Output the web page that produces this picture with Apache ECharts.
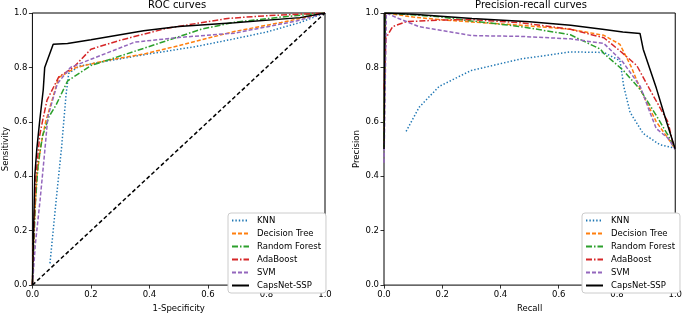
<!DOCTYPE html>
<html>
<head>
<meta charset="utf-8">
<script src="https://cdn.jsdelivr.net/npm/echarts@6/dist/echarts.min.js"></script>
<style>
html, body { margin: 0; padding: 0; background: #fff; }
#chart { width: 685px; height: 318px; }
</style>
</head>
<body>
<div id="chart"></div>
<script>
var names = ['KNN', 'Decision Tree', 'Random Forest', 'AdaBoost', 'SVM', 'CapsNet-SSP'];
var axisTicks = [0, 0.2, 0.4, 0.6, 0.8, 1.0];

// ROC curves: [1-specificity, sensitivity]
var rocKNN = [[0.06, 0.08], [0.08, 0.3], [0.1, 0.51], [0.107, 0.6], [0.115, 0.7], [0.124, 0.778], [0.16, 0.805], [0.237, 0.82], [0.4, 0.85], [0.55, 0.875], [0.69, 0.905], [0.8, 0.93], [0.915, 0.965], [1, 1]];
var rocDT = [[0, 0], [0.005, 0.2], [0.015, 0.4], [0.03, 0.52], [0.045, 0.6], [0.07, 0.69], [0.09, 0.763], [0.15, 0.8], [0.25, 0.825], [0.38, 0.849], [0.5, 0.88], [0.69, 0.932], [0.85, 0.965], [1, 1]];
var rocRF = [[0, 0], [0.01, 0.3], [0.02, 0.45], [0.035, 0.55], [0.057, 0.62], [0.08, 0.66], [0.12, 0.75], [0.2, 0.807], [0.38, 0.87], [0.576, 0.94], [0.69, 0.966], [0.85, 0.985], [1, 1]];
var rocAda = [[0, 0], [0.005, 0.2], [0.012, 0.4], [0.025, 0.55], [0.034, 0.6], [0.05, 0.68], [0.09, 0.765], [0.14, 0.8], [0.2, 0.867], [0.3, 0.9], [0.46, 0.944], [0.667, 0.98], [0.8, 0.99], [1, 1]];
var rocSVM = [[0, 0], [0.01, 0.15], [0.026, 0.31], [0.034, 0.4], [0.042, 0.49], [0.053, 0.62], [0.085, 0.74], [0.13, 0.8], [0.2, 0.83], [0.35, 0.893], [0.5, 0.91], [0.69, 0.926], [0.9, 0.97], [1, 1]];
var rocCaps = [[0, 0], [0.008, 0.4], [0.015, 0.5], [0.025, 0.605], [0.037, 0.718], [0.042, 0.8], [0.071, 0.885], [0.12, 0.888], [0.2, 0.902], [0.38, 0.935], [0.5, 0.95], [0.69, 0.964], [0.915, 0.983], [1, 1]];
var rocChance = [[0, 0], [1, 1]];

// Precision-recall curves: [recall, precision]
var prKNN = [[0.076, 0.565], [0.121, 0.654], [0.189, 0.73], [0.3, 0.789], [0.47, 0.831], [0.64, 0.857], [0.755, 0.855], [0.81, 0.825], [0.817, 0.778], [0.823, 0.731], [0.845, 0.635], [0.89, 0.557], [0.947, 0.516], [0.992, 0.505], [1, 0.5]];
var prDT = [[0, 0.5], [0.005, 1.0], [0.1, 0.985], [0.2, 0.975], [0.3, 0.967], [0.47, 0.955], [0.64, 0.94], [0.755, 0.918], [0.81, 0.885], [0.85, 0.8], [0.88, 0.72], [0.935, 0.6], [0.975, 0.54], [1, 0.5]];
var prRF = [[0, 0.5], [0.005, 1.0], [0.076, 0.995], [0.19, 0.986], [0.3, 0.971], [0.47, 0.95], [0.64, 0.92], [0.743, 0.867], [0.755, 0.851], [0.822, 0.789], [0.88, 0.718], [0.935, 0.623], [0.975, 0.551], [1, 0.5]];
var prAda = [[0, 0.72], [0.007, 0.909], [0.03, 0.95], [0.076, 0.968], [0.19, 0.974], [0.3, 0.976], [0.47, 0.964], [0.64, 0.94], [0.755, 0.909], [0.81, 0.861], [0.868, 0.807], [0.913, 0.718], [0.975, 0.6], [0.99, 0.53], [1, 0.5]];
var prSVM = [[0, 0.45], [0.008, 1.0], [0.05, 0.98], [0.12, 0.95], [0.3, 0.917], [0.47, 0.914], [0.64, 0.905], [0.755, 0.888], [0.82, 0.82], [0.88, 0.73], [0.913, 0.635], [0.935, 0.575], [0.975, 0.54], [1, 0.5]];
var prCaps = [[0, 0.5], [0.003, 1.0], [0.1, 0.995], [0.302, 0.98], [0.5, 0.968], [0.641, 0.955], [0.75, 0.94], [0.82, 0.93], [0.879, 0.925], [0.89, 0.867], [0.935, 0.724], [0.97, 0.6], [1, 0.5]];

var colors = ['#1f77b4', '#ff7f0e', '#2ca02c', '#d62728', '#9467bd', '#000000'];
var dashes = [[1.4, 2], [4, 2], [6, 2, 1.5, 2], [6, 2, 1.5, 2], [4, 2], 'solid'];
var font = 'DejaVu Sans';

function makeAxis(gridIndex, name, isY) {
    return {
        type: 'value',
        gridIndex: gridIndex,
        min: axisTicks[0],
        max: axisTicks[axisTicks.length - 1],
        interval: axisTicks[1] - axisTicks[0],
        name: name,
        nameLocation: 'middle',
        nameGap: isY ? 20 : 13,
        nameTextStyle: { fontFamily: font, fontSize: 8.5, color: '#000' },
        axisLine: { show: false },
        axisTick: { show: true, inside: false, length: 3.5, lineStyle: { color: '#000', width: 0.8 } },
        axisLabel: {
            fontFamily: font, fontSize: 8.5, color: '#000', margin: 5,
            formatter: function (v) { return v.toFixed(1); }
        },
        splitLine: { show: false }
    };
}

function makeSeries(gridIndex, datasets) {
    return datasets.map(function (d, i) {
        return {
            name: names[i],
            type: 'line',
            xAxisIndex: gridIndex,
            yAxisIndex: gridIndex,
            data: d,
            symbol: 'none',
            animation: false,
            z: i === 5 ? 3 : 2,
            lineStyle: { color: colors[i], width: 1.5, type: dashes[i] },
            itemStyle: { color: colors[i] }
        };
    });
}

function makeLegend(left) {
    return {
        orient: 'vertical',
        left: left,
        top: 213,
        data: names,
        itemWidth: 17,
        itemHeight: 8,
        itemGap: 4,
        padding: [3, 5, 3, 3],
        backgroundColor: '#fff',
        borderColor: '#ccc',
        borderWidth: 1,
        borderRadius: 3,
        selectedMode: false,
        itemStyle: { opacity: 0 },
        textStyle: { fontFamily: font, fontSize: 8.5, color: '#000', padding: [0, 0, 0, 3] }
    };
}

var series = makeSeries(0, [rocKNN, rocDT, rocRF, rocAda, rocSVM, rocCaps])
    .concat(makeSeries(1, [prKNN, prDT, prRF, prAda, prSVM, prCaps]));
series.push({
    name: 'chance',
    type: 'line',
    xAxisIndex: 0,
    yAxisIndex: 0,
    data: rocChance,
    symbol: 'none',
    animation: false,
    lineStyle: { color: '#000', width: 1.5, type: [4, 2.5] }
});

var titleStyle = { fontFamily: font, fontSize: 10, fontWeight: 'normal', color: '#000' };

var option = {
    backgroundColor: '#fff',
    title: [
        { text: 'ROC curves', left: 177, top: 0, padding: 0, textAlign: 'center', textStyle: titleStyle },
        { text: 'Precision-recall curves', left: 531, top: 0, padding: 0, textAlign: 'center', textStyle: titleStyle }
    ],
    grid: [
        { left: 30, top: 13, width: 295, height: 280, show: true, borderColor: '#000', borderWidth: 1, backgroundColor: 'transparent' },
        { left: 384, top: 13, width: 295, height: 280, show: true, borderColor: '#000', borderWidth: 1, backgroundColor: 'transparent' }
    ],
    xAxis: [makeAxis(0, '1-Specificity', false), makeAxis(1, 'Recall', false)],
    yAxis: [makeAxis(0, 'Sensitivity', true), makeAxis(1, 'Precision', true)],
    legend: [makeLegend(228), makeLegend(582)],
    series: series
};

var chart = echarts.init(document.getElementById('chart'));
chart.setOption(option);
</script>
</body>
</html>
